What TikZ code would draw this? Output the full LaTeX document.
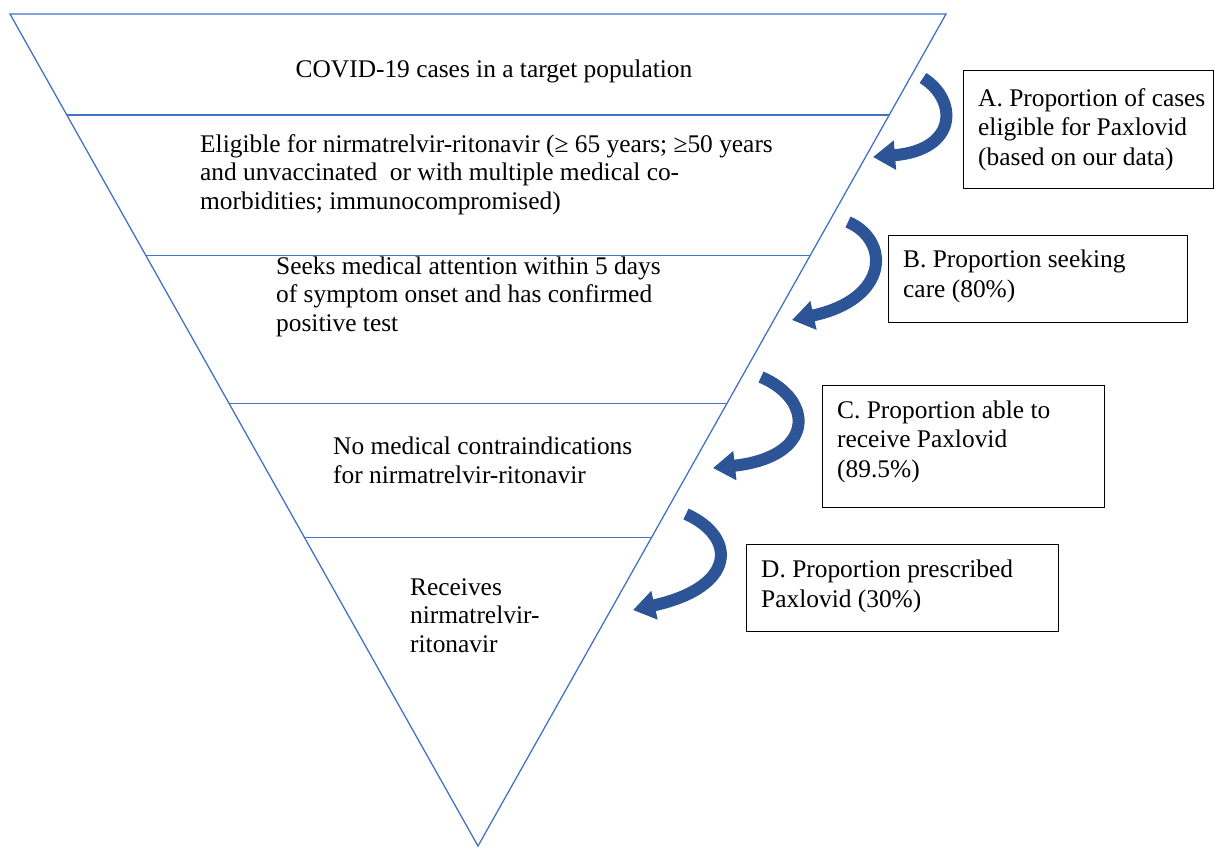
\documentclass[tikz,border=0pt]{standalone}
\usepackage{fontspec}
\setmainfont{Liberation Serif}
\usetikzlibrary{arrows.meta,calc,positioning}
\definecolor{funnelblue}{RGB}{68,114,196}
\definecolor{arrowblue}{RGB}{44,84,150}
\tikzset{
  funnel/.style={draw=funnelblue, line width=1.3pt},
  tiertext/.style={font=\fontsize{25.4}{28.5}\selectfont, align=left, inner sep=0pt, anchor=base west},
  propbox/.style={draw=black, line width=1.4pt, inner sep=0pt, anchor=north west},
  proptext/.style={font=\fontsize{25.4}{29.5}\selectfont, align=left, inner sep=0pt},
  bendarrow/.style={draw=arrowblue, line width=12pt, -{Triangle[length=22pt,width=28pt]}}
}
\begin{document}
\begin{tikzpicture}[x=1pt,y=-1pt]
\useasboundingbox (0,0) rectangle (1225,848);
% funnel
\coordinate (tl) at (10,14);
\coordinate (tr) at (946,14);
\coordinate (apex) at (478,846);
\draw[funnel] (tl) -- (tr) -- (apex) -- cycle;
\foreach \f in {0.1215,0.290,0.468,0.629}
  \draw[funnel] ($(tl)!\f!(apex)$) -- ($(tr)!\f!(apex)$);

% tiers (anchored at the baseline of the last line)
\node[tiertext, anchor=base] (covid) at (494,78) {COVID-19 cases in a target population};
\node[tiertext] (elig) at (200,209) {Eligible for nirmatrelvir-ritonavir (≥ 65 years; ≥50 years\\and unvaccinated\ \ or with multiple medical co-\\morbidities; immunocompromised)};
\node[tiertext] (seek) at (276,331) {Seeks medical attention within 5 days\\of symptom onset and has confirmed\\positive test};
\node[tiertext] (noci) at (333,483) {No medical contraindications\\for nirmatrelvir-ritonavir};
\node[tiertext] (recv) at (410,652) {Receives\\nirmatrelvir-\\ritonavir};

% proportion boxes
\node[propbox, minimum width=250pt, minimum height=118pt] (boxA) at (963,70) {};
\node[proptext, right=15pt of boxA.west] (txtA) {A. Proportion of cases\\eligible for Paxlovid\\(based on our data)};
\node[propbox, minimum width=299pt, minimum height=87pt] (boxB) at (888,235) {};
\node[proptext, right=15pt of boxB.west, yshift=3pt] (txtB) {B. Proportion seeking\\care (80\%)};
\node[propbox, minimum width=282pt, minimum height=122pt] (boxC) at (822,385) {};
\node[proptext, right=15pt of boxC.west, yshift=5pt] (txtC) {C. Proportion able to\\receive Paxlovid\\(89.5\%)};
\node[propbox, minimum width=312pt, minimum height=87pt] (boxD) at (746,544) {};
\node[proptext, right=15pt of boxD.west, yshift=2pt] (txtD) {D. Proportion prescribed\\Paxlovid (30\%)};

% curved arrows
\coordinate (tA) at (923,78);  \coordinate (hA) at (873,157);
\coordinate (tB) at (848,222); \coordinate (hB) at (792,320);
\coordinate (tC) at (761,377); \coordinate (hC) at (713,468);
\coordinate (tD) at (686,514); \coordinate (hD) at (633,610);
\draw[bendarrow] (tA) .. controls +(35,22) and +(85,-7) .. (hA);
\draw[bendarrow] (tB) .. controls +(42,18) and +(98,-21) .. (hB);
\draw[bendarrow] (tC) .. controls +(54,23) and +(102,-11) .. (hC);
\draw[bendarrow] (tD) .. controls +(51,23) and +(104,-23) .. (hD);
\end{tikzpicture}
\end{document}
